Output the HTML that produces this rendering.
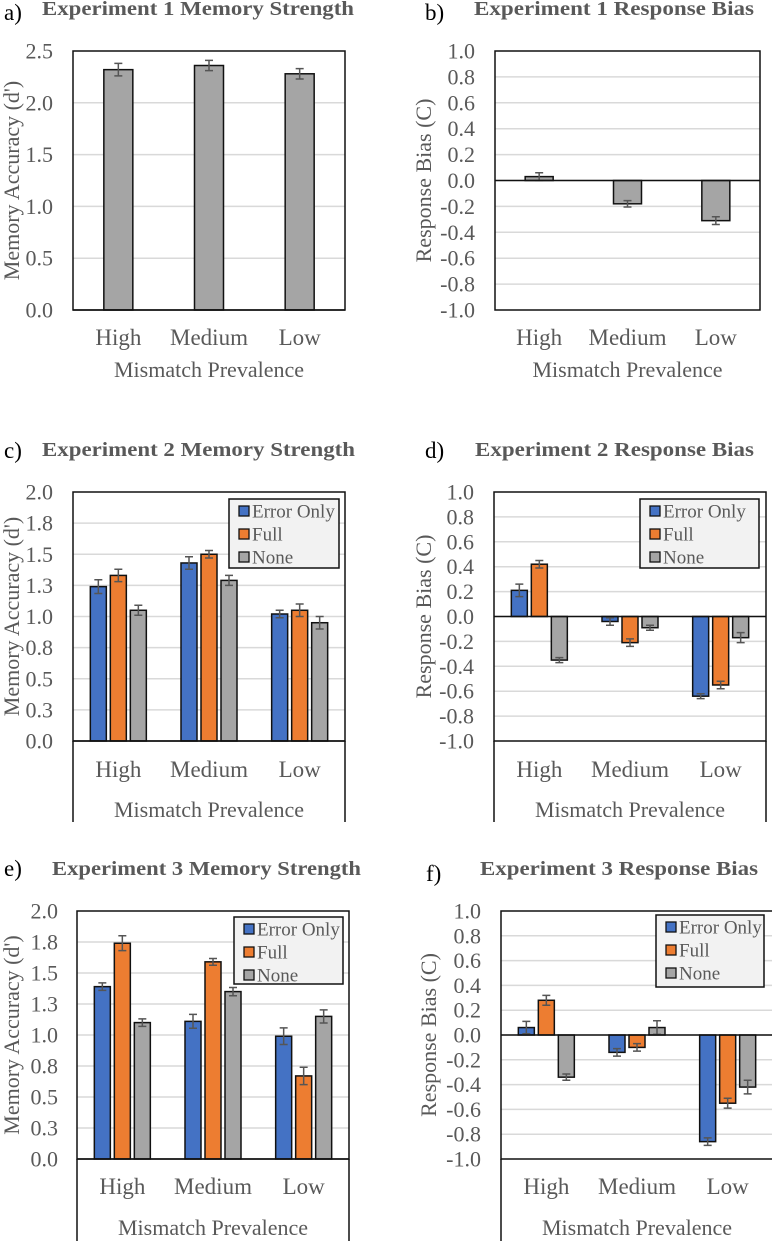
<!DOCTYPE html>
<html><head><meta charset="utf-8"><style>
html,body{margin:0;padding:0;background:#fff}
svg{display:block}
svg text{font-family:"Liberation Serif","Times New Roman",serif}
</style></head><body>
<svg id="fig" width="772" height="1241" viewBox="0 0 772 1241" xmlns="http://www.w3.org/2000/svg"></svg>
<script>
// ---- data ----
const categories = ["High", "Medium", "Low"];
const seriesNames = ["Error Only", "Full", "None"];
const e1Strength = [2.32, 2.36, 2.28];
const e1StrengthErr = [0.06, 0.05, 0.05];
const e1Bias = [0.03, -0.18, -0.31];
const e1BiasErr = [0.03, 0.025, 0.03];
const e2StrengthErrorOnly = [1.24, 1.43, 1.02];
const e2StrengthFull = [1.33, 1.50, 1.05];
const e2StrengthNone = [1.05, 1.29, 0.95];
const e2StrengthErrs = [[0.055, 0.05, 0.03], [0.05, 0.03, 0.05], [0.04, 0.04, 0.05]];
const e2BiasErrorOnly = [0.21, -0.04, -0.64];
const e2BiasFull = [0.42, -0.21, -0.55];
const e2BiasNone = [-0.35, -0.09, -0.17];
const e2BiasErrs = [[0.05, 0.03, 0.02], [0.03, 0.03, 0.03], [0.02, 0.02, 0.04]];
const e3StrengthErrorOnly = [1.39, 1.11, 0.99];
const e3StrengthFull = [1.74, 1.59, 0.67];
const e3StrengthNone = [1.10, 1.35, 1.15];
const e3StrengthErrs = [[0.03, 0.056, 0.067], [0.06, 0.027, 0.07], [0.03, 0.033, 0.053]];
const e3BiasErrorOnly = [0.06, -0.14, -0.86];
const e3BiasFull = [0.28, -0.10, -0.55];
const e3BiasNone = [-0.34, 0.06, -0.42];
const e3BiasErrs = [[0.05, 0.03, 0.03], [0.04, 0.03, 0.04], [0.025, 0.055, 0.055]];
const strengthTicks1 = ["0.0", "0.5", "1.0", "1.5", "2.0", "2.5"];
const strengthTicks2 = ["0.0", "0.3", "0.5", "0.8", "1.0", "1.3", "1.5", "1.8", "2.0"];
const biasTicks = ["-1.0", "-0.8", "-0.6", "-0.4", "-0.2", "0.0", "0.2", "0.4", "0.6", "0.8", "1.0"];

const COLORS = ["#4472C4", "#ED7D31", "#A5A5A5"];
const GRAY = "#595959";
const NS = "http://www.w3.org/2000/svg";
const svg = document.getElementById("fig");

function mk(tag, attrs, parent, text) {
  const el = document.createElementNS(NS, tag);
  for (const k in attrs) el.setAttribute(k, attrs[k]);
  if (text !== undefined) el.textContent = text;
  (parent || svg).appendChild(el);
  return el;
}

function panel(p) {
  const g = mk("g", {});
  
  
  const y = v => p.y1 - (v - p.min) / (p.max - p.min) * (p.y1 - p.y0);
  const lt = mk("text", {x: p.lx, y: p.lby, "font-size": 23, fill: "#000"}, g, p.letter);
  
  
  const tt = mk("text", {x: p.tx, y: p.tby, "font-size": 20, "font-weight": "bold", fill: GRAY, textLength: p.tw, lengthAdjust: "spacingAndGlyphs"}, g, p.title);
  
  
  const n = p.ticks.length;
  for (let i = 0; i < n; i++) {
    const v = p.min + (p.max - p.min) * i / (n - 1);
    const yy = y(v);
    if (i > 0 && i < n - 1) {
      const gl = mk("line", {x1: p.x0, x2: p.x1, y1: yy, y2: yy, stroke: "#d9d9d9", "stroke-width": 1.5}, g);
      
      
    }
    const tl = mk("text", {x: p.tickX, y: yy + 7.5, "font-size": 22, fill: GRAY, "text-anchor": "end"}, g, p.ticks[i]);
    
    
  }
  const yt = mk("text", {x: 0, y: 0, "font-size": 22, fill: GRAY, "text-anchor": "middle", transform: `translate(${p.ytx},${(p.y0 + p.y1) / 2}) rotate(-90)`}, g, p.ytitle);
  
  
  const gw = (p.x1 - p.x0) / categories.length;
  const zero = y(Math.max(0, p.min));
  p.series.forEach((vals, s) => {
    const ns = p.series.length;
    vals.forEach((v, c) => {
      const cx = p.x0 + gw * (c + 0.5) + (s - (ns - 1) / 2) * p.stride;
      const yv = y(v);
      const r = mk("rect", {x: cx - p.bw / 2, y: Math.min(yv, zero), width: p.bw, height: Math.abs(zero - yv), fill: p.colors[s], stroke: "#111", "stroke-width": 1.5}, g);
      
      
      const e = p.errs[s][c];
      const eg = mk("path", {d: `M${cx},${y(v + e)}V${y(v - e)}M${cx - 4},${y(v + e)}H${cx + 4}M${cx - 4},${y(v - e)}H${cx + 4}`, stroke: "#555", "stroke-width": 1.5, fill: "none"}, g);
      
      
    });
  });
  const fr = mk("rect", {x: p.x0, y: p.y0, width: p.x1 - p.x0, height: p.y1 - p.y0, fill: "none", stroke: "#111", "stroke-width": 1.5}, g);
  
  
  const zl = mk("line", {x1: p.x0, x2: p.x1, y1: zero, y2: zero, stroke: "#111", "stroke-width": 1.5}, g);
  
  
  if (p.outerBottom) {
    const ob = mk("path", {d: `M${p.x0},${p.y1}V${p.outerBottom}M${p.x1},${p.y1}V${p.outerBottom}`, stroke: "#111", "stroke-width": 1.5, fill: "none"}, g);
    
    
  }
  categories.forEach((c, i) => {
    const cl = mk("text", {x: p.x0 + gw * (i + 0.5), y: p.catY, "font-size": 23, fill: GRAY, "text-anchor": "middle"}, g, c);
    
    
  });
  const xt = mk("text", {x: (p.x0 + p.x1) / 2, y: p.xtY, "font-size": 22, fill: GRAY, "text-anchor": "middle"}, g, "Mismatch Prevalence");
  
  
  if (p.legend) {
    const L = p.legend;
    const lg = mk("g", {}, g);
    
    
    mk("rect", {x: L.x, y: L.y, width: L.w, height: L.h, fill: "#f2f2f2", stroke: "#111", "stroke-width": 1.5}, lg);
    seriesNames.forEach((s, i) => {
      const cy = L.y + 12 + i * 23;
      const en = mk("g", {}, lg);
      
      
      mk("rect", {x: L.x + 10, y: cy - 5, width: 10, height: 10, fill: COLORS[i], stroke: "#111", "stroke-width": 1.3}, en);
      mk("text", {x: L.x + 23, y: cy + 6.5, "font-size": 19, fill: GRAY}, en, s);
    });
  }
}

panel({name: "panel-a-exp1-strength", letter: "a)", lx: 4, lby: 20, title: "Experiment 1 Memory Strength", tx: 42, tby: 15, tw: 312,
  x0: 73, x1: 345, y0: 51, y1: 310, min: 0, max: 2.5, ticks: strengthTicks1, tickX: 53, ytx: 19, ytitle: "Memory Accuracy (d')",
  series: [e1Strength], errs: [e1StrengthErr], colors: [COLORS[2]], bw: 29, stride: 0, catY: 345, xtY: 377});
panel({name: "panel-b-exp1-bias", letter: "b)", lx: 425, lby: 20, title: "Experiment 1 Response Bias", tx: 474, tby: 15, tw: 280,
  x0: 495, x1: 760, y0: 51, y1: 310, min: -1, max: 1, ticks: biasTicks, tickX: 475, ytx: 431, ytitle: "Response Bias (C)",
  series: [e1Bias], errs: [e1BiasErr], colors: [COLORS[2]], bw: 28, stride: 0, catY: 345, xtY: 377});
panel({name: "panel-c-exp2-strength", letter: "c)", lx: 4, lby: 458, title: "Experiment 2 Memory Strength", tx: 42, tby: 456, tw: 313,
  x0: 73, x1: 345, y0: 492, y1: 741, min: 0, max: 2, ticks: strengthTicks2, tickX: 53, ytx: 19, ytitle: "Memory Accuracy (d')",
  series: [e2StrengthErrorOnly, e2StrengthFull, e2StrengthNone], errs: e2StrengthErrs, colors: COLORS, bw: 16, stride: 20,
  catY: 777, xtY: 817, outerBottom: 822, legend: {x: 229, y: 499, w: 110, h: 69}});
panel({name: "panel-d-exp2-bias", letter: "d)", lx: 425, lby: 458, title: "Experiment 2 Response Bias", tx: 475, tby: 456, tw: 279,
  x0: 494, x1: 766, y0: 492, y1: 741, min: -1, max: 1, ticks: biasTicks, tickX: 474, ytx: 431, ytitle: "Response Bias (C)",
  series: [e2BiasErrorOnly, e2BiasFull, e2BiasNone], errs: e2BiasErrs, colors: COLORS, bw: 16, stride: 20,
  catY: 777, xtY: 817, outerBottom: 822, legend: {x: 640, y: 499, w: 119, h: 69}});
panel({name: "panel-e-exp3-strength", letter: "e)", lx: 4, lby: 876, title: "Experiment 3 Memory Strength", tx: 52, tby: 875, tw: 309,
  x0: 77, x1: 349, y0: 911, y1: 1159, min: 0, max: 2, ticks: strengthTicks2, tickX: 58, ytx: 19, ytitle: "Memory Accuracy (d')",
  series: [e3StrengthErrorOnly, e3StrengthFull, e3StrengthNone], errs: e3StrengthErrs, colors: COLORS, bw: 16, stride: 20,
  catY: 1194, xtY: 1235, outerBottom: 1241, legend: {x: 234, y: 917, w: 109, h: 67}});
panel({name: "panel-f-exp3-bias", letter: "f)", lx: 426, lby: 881, title: "Experiment 3 Response Bias", tx: 480, tby: 875, tw: 278,
  x0: 501, x1: 773, y0: 911, y1: 1159, min: -1, max: 1, ticks: biasTicks, tickX: 481, ytx: 436, ytitle: "Response Bias (C)",
  series: [e3BiasErrorOnly, e3BiasFull, e3BiasNone], errs: e3BiasErrs, colors: COLORS, bw: 16, stride: 20,
  catY: 1194, xtY: 1235, outerBottom: 1241, legend: {x: 656, y: 915, w: 108, h: 72}});
</script>
</body></html>
